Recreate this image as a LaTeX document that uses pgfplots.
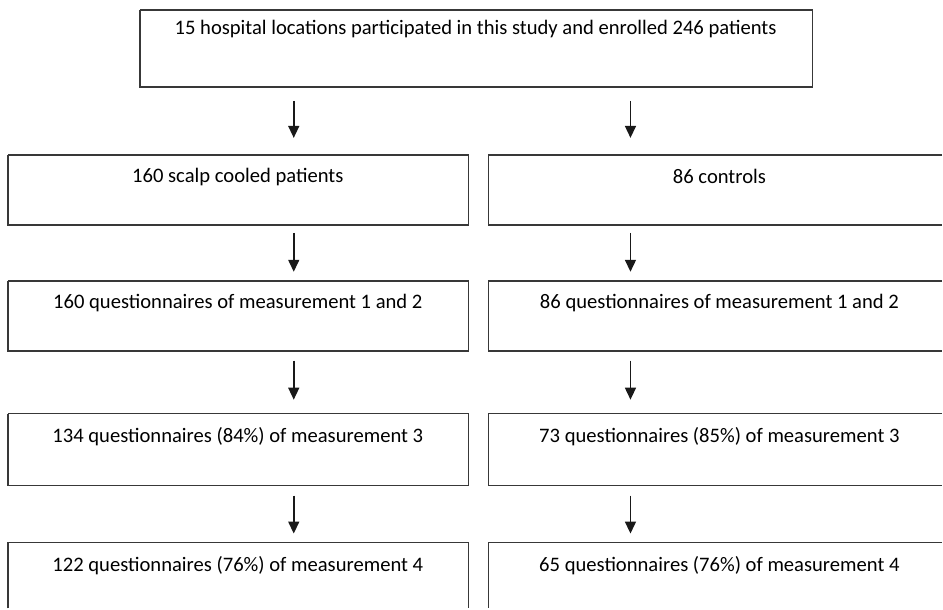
\documentclass[border=0pt]{standalone}
\usepackage{pgfplots}
\pgfplotsset{compat=1.18}
\usepackage{fontspec}
\setmainfont{Carlito}
\usetikzlibrary{arrows.meta}
\tikzset{lbl/.style={font=\fontsize{20.7}{24}\selectfont, anchor=center, inner sep=0pt}}
\begin{document}
\begin{tikzpicture}
\begin{axis}[
  scale only axis, width=943bp, height=609bp,
  xmin=0, xmax=943, ymin=0, ymax=609, y dir=reverse,
  axis lines=none, clip=false,
]
% invisible frame for the picture's bounds
\addplot[draw=none, mark=none] coordinates {(0,0) (943,609)};
% boxes
\addplot[line width=1.6bp, draw=black!78, mark=none] coordinates {(140,10) (813,10) (813,87) (140,87) (140,10)};
\addplot[line width=1.6bp, draw=black!78, mark=none] coordinates {(8,155) (469,155) (469,225) (8,225) (8,155)};
\addplot[line width=1.6bp, draw=black!78, mark=none] coordinates {(943,155) (489,155) (489,225) (943,225)};
\addplot[line width=1.6bp, draw=black!78, mark=none] coordinates {(8,281) (469,281) (469,351) (8,351) (8,281)};
\addplot[line width=1.6bp, draw=black!78, mark=none] coordinates {(943,281) (489,281) (489,351) (943,351)};
\addplot[line width=1.6bp, draw=black!78, mark=none] coordinates {(8,414) (469,414) (469,486) (8,486) (8,414)};
\addplot[line width=1.6bp, draw=black!78, mark=none] coordinates {(943,414) (489,414) (489,486) (943,486)};
\addplot[line width=1.6bp, draw=black!78, mark=none] coordinates {(8,609) (8,543) (469,543) (469,609)};
\addplot[line width=1.6bp, draw=black!78, mark=none] coordinates {(943,543) (489,543) (489,609)};
% arrows
\pgfplotsset{arr/.style={line width=1.5bp, black!90, mark=none, -{Triangle[length=12bp,width=11bp]}}}
\addplot[arr] coordinates {(294,101) (294,138)};
\addplot[arr] coordinates {(631,101) (631,138)};
\addplot[arr] coordinates {(294,233) (294,272)};
\addplot[arr] coordinates {(631,233) (631,272)};
\addplot[arr] coordinates {(294,361) (294,400)};
\addplot[arr] coordinates {(631,361) (631,400)};
\addplot[arr] coordinates {(294,496) (294,534)};
\addplot[arr] coordinates {(631,496) (631,534)};
% texts
\node[lbl] at (axis cs:476,29) {15 hospital locations participated in this study and enrolled 246 patients};
\node[lbl] at (axis cs:238,177) {160 scalp cooled patients};
\node[lbl] at (axis cs:720,177) {86 controls};
\node[lbl] at (axis cs:238,303) {160 questionnaires of measurement 1 and 2};
\node[lbl] at (axis cs:720,303) {86 questionnaires of measurement 1 and 2};
\node[lbl] at (axis cs:238,437) {134 questionnaires (84\%) of measurement 3};
\node[lbl] at (axis cs:720,437) {73 questionnaires (85\%) of measurement 3};
\node[lbl] at (axis cs:238,566) {122 questionnaires (76\%) of measurement 4};
\node[lbl] at (axis cs:720,566) {65 questionnaires (76\%) of measurement 4};
\end{axis}
\end{tikzpicture}
\end{document}
